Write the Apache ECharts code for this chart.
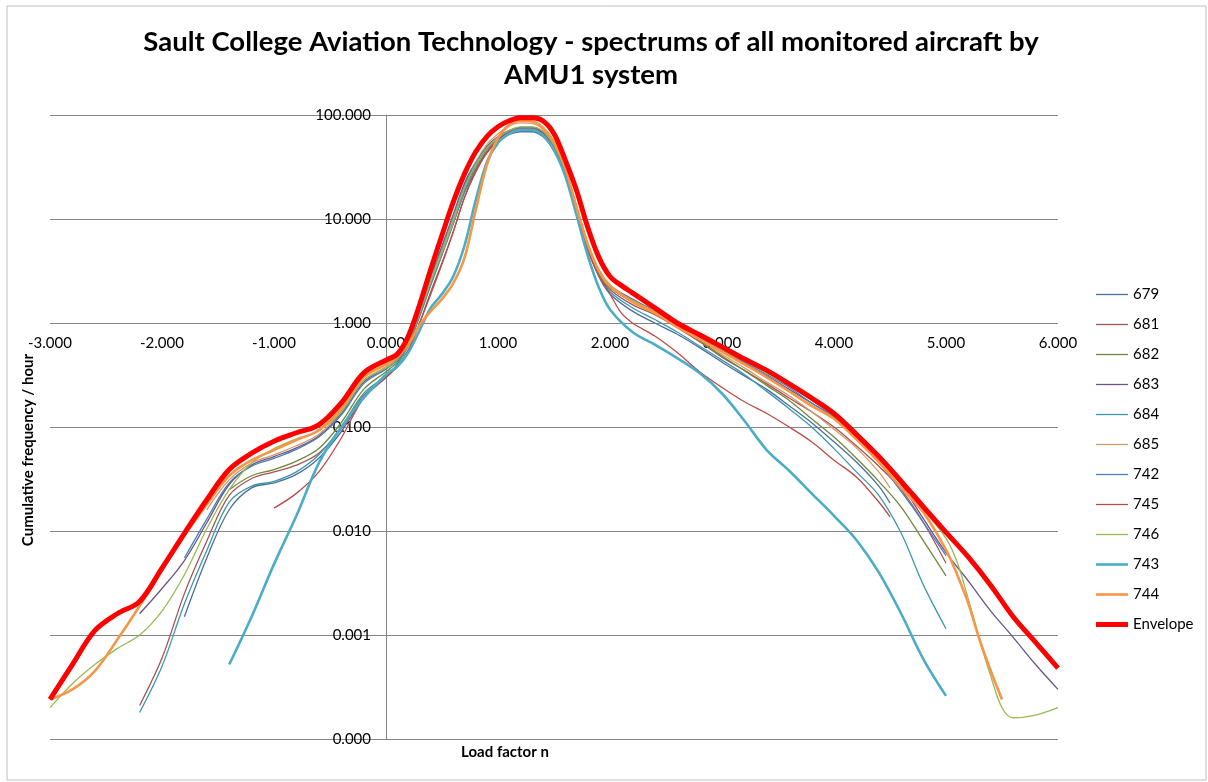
<!DOCTYPE html>
<html>
<head>
<meta charset="utf-8">
<title>AMU1 spectrums</title>
<script src="https://cdn.jsdelivr.net/npm/echarts@6/dist/echarts.min.js"></script>
<style>
    html, body { margin: 0; padding: 0; background: #fff; }
    #main { width: 1208px; height: 782px; }
</style>
</head>
<body>
<div id="main"></div>
<script>
// load factor n -> cumulative frequency / hour
var seriesNames = ['679', '681', '682', '683', '684', '685', '742', '745', '746', '743', '744', 'Envelope'];
var xTicks = [-3, -2, -1, 0, 1, 2, 3, 4, 5, 6];

var s679 = [[-1.8,0.0015],[-1.6,0.0055],[-1.4,0.016],[-1.2,0.026],[-1.0,0.029],[-0.8,0.035],[-0.6,0.05],[-0.4,0.09],[-0.2,0.19],[0,0.3],[0.1,0.4],[0.2,0.62],[0.3,1.2],[0.4,2.4],[0.5,4.6],[0.6,9],[0.7,18],[0.8,30],[0.9,44],[1.0,56],[1.1,65],[1.2,69],[1.3,69],[1.4,62],[1.5,45],[1.6,27],[1.7,12],[1.8,5.2],[1.9,2.8],[2.0,1.9],[2.2,1.3],[2.4,1.0],[2.6,0.78],[2.8,0.58],[3.0,0.42],[3.2,0.31],[3.4,0.23],[3.6,0.16],[3.8,0.11],[4.0,0.072],[4.2,0.046],[4.4,0.027],[4.5,0.0186]];
var s681 = [[-2.2,0.00021],[-2.0,0.0006],[-1.8,0.0025],[-1.6,0.008],[-1.4,0.022],[-1.2,0.032],[-1.0,0.037],[-0.8,0.043],[-0.6,0.056],[-0.4,0.096],[-0.2,0.2],[0,0.3],[0.1,0.38],[0.2,0.55],[0.3,1.0],[0.4,2.0],[0.5,3.8],[0.6,7.5],[0.7,16],[0.8,28],[0.9,43],[1.0,56],[1.1,66],[1.2,72],[1.3,72],[1.4,65],[1.5,47],[1.6,28],[1.7,12.5],[1.8,5.4],[1.9,3.0],[2.0,2.1],[2.2,1.5],[2.4,1.2],[2.6,0.9],[2.8,0.66],[3.0,0.47],[3.2,0.35],[3.4,0.26],[3.6,0.19],[3.8,0.14],[4.0,0.1],[4.2,0.066],[4.4,0.042],[4.6,0.025],[4.8,0.012],[5.0,0.0049]];
var s682 = [[-1.4,0.025],[-1.2,0.034],[-1.0,0.039],[-0.8,0.047],[-0.6,0.062],[-0.4,0.11],[-0.2,0.23],[0,0.34],[0.1,0.42],[0.2,0.62],[0.3,1.2],[0.4,2.5],[0.5,5],[0.6,9.5],[0.7,19],[0.8,32],[0.9,47],[1.0,60],[1.1,70],[1.2,75],[1.3,75],[1.4,68],[1.5,50],[1.6,29],[1.7,13],[1.8,5.6],[1.9,3.1],[2.0,2.2],[2.2,1.6],[2.4,1.25],[2.6,0.93],[2.8,0.68],[3.0,0.48],[3.2,0.35],[3.4,0.25],[3.6,0.18],[3.8,0.12],[4.0,0.08],[4.2,0.05],[4.4,0.03],[4.6,0.017],[4.8,0.008],[5.0,0.0037]];
var s683 = [[-2.2,0.0016],[-2.0,0.0028],[-1.8,0.0052],[-1.6,0.012],[-1.4,0.028],[-1.2,0.043],[-1.0,0.052],[-0.8,0.063],[-0.6,0.082],[-0.4,0.135],[-0.2,0.27],[0,0.37],[0.1,0.45],[0.2,0.68],[0.3,1.35],[0.4,2.8],[0.5,5.5],[0.6,11],[0.7,22],[0.8,35],[0.9,50],[1.0,62],[1.1,71],[1.2,76],[1.3,76],[1.4,69],[1.5,51],[1.6,30],[1.7,13.5],[1.8,5.8],[1.9,3.2],[2.0,2.3],[2.2,1.7],[2.4,1.3],[2.6,0.98],[2.8,0.73],[3.0,0.54],[3.2,0.41],[3.4,0.31],[3.6,0.23],[3.8,0.17],[4.0,0.125],[4.2,0.08],[4.4,0.05],[4.6,0.028],[4.8,0.013],[5.0,0.0062],[5.2,0.0033],[5.4,0.0017],[5.6,0.00095],[5.8,0.00052],[6.0,0.0003]];
var s684 = [[-2.2,0.00018],[-2.0,0.0005],[-1.8,0.002],[-1.6,0.0065],[-1.4,0.019],[-1.2,0.027],[-1.0,0.03],[-0.8,0.037],[-0.6,0.054],[-0.4,0.1],[-0.2,0.21],[0,0.31],[0.1,0.4],[0.2,0.6],[0.3,1.15],[0.4,2.3],[0.5,4.5],[0.6,9],[0.7,18],[0.8,30],[0.9,45],[1.0,58],[1.1,68],[1.2,73],[1.3,73],[1.4,66],[1.5,48],[1.6,28],[1.7,12.5],[1.8,5.3],[1.9,2.9],[2.0,2.0],[2.2,1.4],[2.4,1.08],[2.6,0.82],[2.8,0.6],[3.0,0.44],[3.2,0.32],[3.4,0.22],[3.6,0.15],[3.8,0.1],[4.0,0.062],[4.2,0.037],[4.4,0.022],[4.6,0.0095],[4.8,0.003],[5.0,0.00115]];
var s685 = [[-1.6,0.016],[-1.4,0.031],[-1.2,0.045],[-1.0,0.054],[-0.8,0.066],[-0.6,0.085],[-0.4,0.14],[-0.2,0.28],[0,0.38],[0.1,0.46],[0.2,0.66],[0.3,1.25],[0.4,2.5],[0.5,4.8],[0.6,9.5],[0.7,20],[0.8,35],[0.9,52],[1.0,66],[1.1,78],[1.2,84],[1.3,83],[1.4,73],[1.5,53],[1.6,30],[1.7,13],[1.8,5.6],[1.9,3.1],[2.0,2.2],[2.2,1.6],[2.4,1.25],[2.6,0.95],[2.8,0.7],[3.0,0.5],[3.2,0.37],[3.4,0.27],[3.6,0.2],[3.8,0.14],[4.0,0.095],[4.2,0.063],[4.4,0.037],[4.5,0.026]];
var s742 = [[-1.8,0.0055],[-1.6,0.013],[-1.4,0.029],[-1.2,0.042],[-1.0,0.05],[-0.8,0.061],[-0.6,0.08],[-0.4,0.13],[-0.2,0.26],[0,0.36],[0.1,0.44],[0.2,0.66],[0.3,1.3],[0.4,2.7],[0.5,5.3],[0.6,10.5],[0.7,21],[0.8,34],[0.9,49],[1.0,61],[1.1,70],[1.2,75],[1.3,75],[1.4,68],[1.5,50],[1.6,29],[1.7,13],[1.8,5.6],[1.9,3.1],[2.0,2.2],[2.2,1.6],[2.4,1.27],[2.6,0.97],[2.8,0.74],[3.0,0.55],[3.2,0.42],[3.4,0.32],[3.6,0.24],[3.8,0.17],[4.0,0.125],[4.2,0.08],[4.4,0.046],[4.6,0.024],[4.8,0.012],[5.0,0.0058]];
var s745 = [[-1.0,0.0166],[-0.8,0.023],[-0.6,0.037],[-0.4,0.078],[-0.2,0.19],[0,0.3],[0.1,0.38],[0.2,0.55],[0.3,1.0],[0.4,1.9],[0.5,3.7],[0.6,7.5],[0.7,16],[0.8,29],[0.9,44],[1.0,58],[1.1,68],[1.2,74],[1.3,74],[1.4,67],[1.5,49],[1.6,28],[1.7,12],[1.8,5.0],[1.9,2.9],[2.0,1.9],[2.1,1.25],[2.2,1.0],[2.4,0.75],[2.6,0.52],[2.8,0.34],[3.0,0.24],[3.2,0.175],[3.4,0.135],[3.6,0.1],[3.8,0.072],[4.0,0.048],[4.2,0.033],[4.4,0.019],[4.5,0.0137]];
var s746 = [[-3.0,0.0002],[-2.8,0.00034],[-2.6,0.00052],[-2.4,0.00074],[-2.2,0.001],[-2.0,0.0017],[-1.8,0.0038],[-1.6,0.0105],[-1.4,0.025],[-1.2,0.045],[-1.0,0.062],[-0.8,0.077],[-0.6,0.092],[-0.4,0.14],[-0.2,0.28],[0,0.37],[0.1,0.45],[0.2,0.66],[0.3,1.3],[0.4,2.6],[0.5,5.0],[0.6,10],[0.7,20],[0.8,33],[0.9,48],[1.0,61],[1.1,71],[1.2,77],[1.3,77],[1.4,70],[1.5,51],[1.6,30],[1.7,13],[1.8,5.7],[1.9,3.1],[2.0,2.2],[2.2,1.65],[2.4,1.3],[2.6,1.0],[2.8,0.75],[3.0,0.56],[3.2,0.43],[3.4,0.33],[3.6,0.25],[3.8,0.18],[4.0,0.13],[4.2,0.082],[4.4,0.05],[4.6,0.029],[4.8,0.016],[5.0,0.0085],[5.1,0.005],[5.2,0.0022],[5.3,0.0009],[5.4,0.0004],[5.5,0.0002],[5.6,0.00016],[5.8,0.00017],[6.0,0.0002]];
var s743 = [[-1.4,0.00052],[-1.2,0.0015],[-1.0,0.0048],[-0.8,0.014],[-0.6,0.045],[-0.4,0.1],[-0.2,0.19],[0,0.32],[0.1,0.38],[0.2,0.52],[0.3,0.85],[0.4,1.4],[0.5,1.9],[0.6,2.8],[0.7,5.5],[0.8,15],[0.9,35],[1.0,54],[1.1,66],[1.2,72],[1.3,72],[1.4,64],[1.5,46],[1.6,26],[1.7,11],[1.8,4.5],[1.9,2.2],[2.0,1.35],[2.2,0.82],[2.4,0.62],[2.6,0.46],[2.8,0.33],[3.0,0.21],[3.2,0.115],[3.4,0.06],[3.6,0.038],[3.8,0.023],[4.0,0.014],[4.2,0.0082],[4.4,0.004],[4.6,0.0016],[4.8,0.00058],[5.0,0.00026]];
var s744 = [[-3.0,0.00024],[-2.8,0.0003],[-2.6,0.00045],[-2.4,0.0009],[-2.2,0.0019],[-2.0,0.0042],[-1.8,0.009],[-1.6,0.018],[-1.4,0.034],[-1.2,0.048],[-1.0,0.06],[-0.8,0.075],[-0.6,0.093],[-0.4,0.15],[-0.2,0.3],[0,0.4],[0.1,0.47],[0.2,0.62],[0.3,0.95],[0.4,1.3],[0.5,1.7],[0.6,2.4],[0.7,4.2],[0.8,12],[0.9,33],[1.0,60],[1.1,80],[1.2,88],[1.3,87],[1.4,76],[1.5,55],[1.6,31],[1.7,13],[1.8,5.8],[1.9,3.2],[2.0,2.3],[2.2,1.6],[2.4,1.25],[2.6,0.92],[2.8,0.7],[3.0,0.53],[3.2,0.4],[3.4,0.3],[3.6,0.22],[3.8,0.16],[4.0,0.12],[4.2,0.076],[4.4,0.046],[4.6,0.026],[4.8,0.015],[5.0,0.0066],[5.1,0.0038],[5.2,0.002],[5.3,0.0009],[5.4,0.00045],[5.5,0.00024]];
var envelope = [[-3.0,0.00024],[-2.8,0.00052],[-2.6,0.0011],[-2.4,0.0016],[-2.2,0.0021],[-2.0,0.0044],[-1.8,0.0095],[-1.6,0.02],[-1.4,0.039],[-1.2,0.056],[-1.0,0.073],[-0.8,0.088],[-0.6,0.105],[-0.4,0.17],[-0.2,0.33],[0,0.44],[0.1,0.5],[0.2,0.75],[0.3,1.5],[0.4,3.3],[0.5,7],[0.6,14.5],[0.7,27],[0.8,44],[0.9,62],[1.0,77],[1.1,88],[1.2,94],[1.3,94],[1.4,88],[1.5,66],[1.6,37],[1.7,19],[1.8,8.4],[1.9,4.3],[2.0,2.8],[2.1,2.3],[2.2,1.95],[2.4,1.4],[2.6,1.0],[2.8,0.77],[3.0,0.59],[3.2,0.45],[3.4,0.35],[3.6,0.26],[3.8,0.19],[4.0,0.135],[4.2,0.085],[4.4,0.052],[4.6,0.03],[4.8,0.017],[5.0,0.0097],[5.2,0.0056],[5.4,0.003],[5.6,0.0015],[5.8,0.00085],[6.0,0.00048]];

var seriesData = [s679, s681, s682, s683, s684, s685, s742, s745, s746, s743, s744, envelope];
var seriesColors = ['#4A6E9E', '#A65452', '#71883A', '#6A5489', '#3D97AD', '#D9996A', '#4A7EBB', '#BE4B48', '#98B954', '#4BACC6', '#F79646', '#FF0000'];
var seriesWidths = [1.3, 1.3, 1.3, 1.3, 1.3, 1.3, 1.3, 1.3, 1.3, 2.6, 2.6, 5];

var font = 'Lato, "Liberation Sans", sans-serif';

var series = [];
var legendData = [];
for (var i = 0; i < seriesNames.length; i++) {
    series.push({
        name: seriesNames[i],
        type: 'line',
        xAxisIndex: 0,
        yAxisIndex: 0,
        data: seriesData[i],
        smooth: 0.35,
        symbol: 'none',
        showSymbol: false,
        color: seriesColors[i],
        lineStyle: { color: seriesColors[i], width: seriesWidths[i] }
    });
    // plain line swatch, as thick as the series line
    legendData.push({
        name: seriesNames[i],
        icon: 'path://M0,0H32V' + seriesWidths[i] + 'H0Z'
    });
}

var option = {
    animation: false,
    backgroundColor: '#fff',
    textStyle: { fontFamily: font },
    title: {
        text: 'Sault College Aviation Technology - spectrums of all monitored aircraft by\nAMU1 system',
        left: 586,
        textAlign: 'center',
        top: 21,
        textStyle: { fontFamily: font, fontSize: 27.5, fontWeight: 'bold', color: '#000', lineHeight: 33 }
    },
    legend: {
        orient: 'vertical',
        left: 1091,
        top: 282,
        itemWidth: 32,
        itemHeight: 14,
        itemGap: 15,
        data: legendData,
        textStyle: { fontFamily: font, fontSize: 15, color: '#000' }
    },
    grid: [
        { left: 50, right: 150, top: 115, bottom: 43, containLabel: false, outerBoundsMode: 'none' },
        { left: 50, right: 150, top: 115, height: 208, containLabel: false, outerBoundsMode: 'none' },
        { left: 386, right: 150, top: 115, bottom: 43, containLabel: false, outerBoundsMode: 'none' }
    ],
    xAxis: [
        {
            type: 'value', gridIndex: 0, min: -3, max: 6, interval: 1,
            axisLine: { show: false }, axisTick: { show: false },
            axisLabel: { show: false }, splitLine: { show: false }
        },
        {
            type: 'value', gridIndex: 1, min: xTicks[0], max: xTicks[xTicks.length - 1], interval: 1,
            position: 'bottom',
            axisLine: { show: false, onZero: false }, axisTick: { show: false },
            splitLine: { show: false },
            axisLabel: {
                margin: 13, fontSize: 15, color: '#000', fontFamily: font,
                formatter: function (v) { return v.toFixed(3); }
            }
        },
        { type: 'value', gridIndex: 2, min: 0, max: 1, show: false }
    ],
    yAxis: [
        {
            type: 'log', logBase: 10, gridIndex: 0, min: 0.0001, max: 100,
            axisLine: { show: true, onZero: true, lineStyle: { color: '#868686', width: 1 } },
            axisTick: { show: false },
            axisLabel: { show: false },
            splitLine: { show: true, lineStyle: { color: '#868686', width: 1 } }
        },
        { type: 'value', gridIndex: 1, min: 0, max: 1, show: false },
        {
            // tick labels sit beside the n = 0 line
            type: 'log', logBase: 10, gridIndex: 2, min: 0.0001, max: 100,
            position: 'left',
            axisLine: { show: false, onZero: false }, axisTick: { show: false },
            splitLine: { show: false },
            axisLabel: {
                margin: 15, fontSize: 15, color: '#000', fontFamily: font,
                formatter: function (v) { return v.toFixed(3); }
            }
        }
    ],
    graphic: [
        {
            type: 'rect', silent: true, z: -1,
            shape: { x: 7, y: 6, width: 1199, height: 774 },
            style: { fill: null, stroke: '#BFBFBF', lineWidth: 1 }
        },
        {
            type: 'text', x: 28, y: 450, rotation: Math.PI / 2,
            style: { text: 'Cumulative frequency / hour', font: 'bold 15px ' + font, fill: '#000', textAlign: 'center', textVerticalAlign: 'middle' }
        },
        {
            type: 'text', x: 505, y: 752,
            style: { text: 'Load factor n', font: 'bold 15px ' + font, fill: '#000', textAlign: 'center', textVerticalAlign: 'middle' }
        }
    ],
    series: series
};

var chart = echarts.init(document.getElementById('main'));
chart.setOption(option);
</script>
</body>
</html>
